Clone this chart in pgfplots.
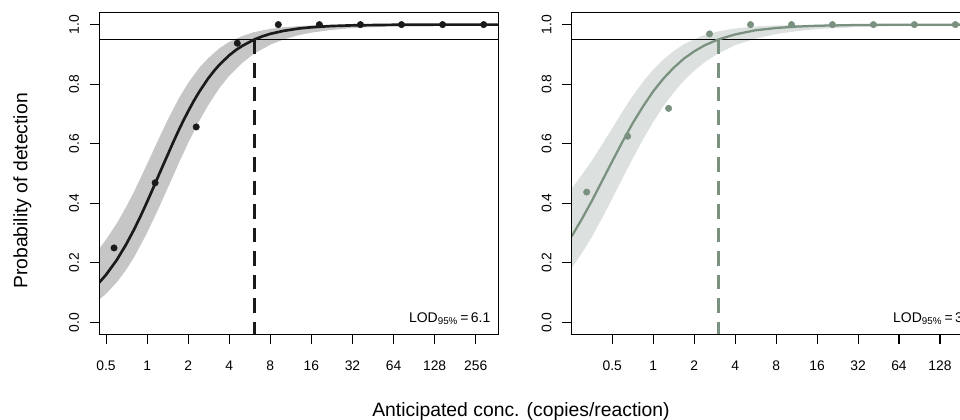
\documentclass[border=0pt]{standalone}
\usepackage{fontspec}
\setmainfont{Liberation Sans}
\usepackage{pgfplots}
\pgfplotsset{compat=1.18}
\definecolor{darkc}{HTML}{1A1A1A}
\definecolor{bandL}{HTML}{C6C6C6}
\definecolor{sage}{HTML}{7B917F}
\definecolor{bandR}{HTML}{DCE1E0}
\begin{document}
\begin{tikzpicture}
% ---------------- left panel ----------------
\begin{axis}[
  scale only axis, width=299.25pt, height=241.2pt,
  anchor=south west, at={(74.475pt,64.275pt)},
  xmode=log, log basis x=2,
  xmin=0.446, xmax=375, ymin=-0.04, ymax=1.04,
  xtick={0.5,1,2,4,8,16,32,64,128,256},
  xticklabels={0.5,1,2,4,8,16,32,64,128,256},
  ytick={0,0.2,0.4,0.6,0.8,1}, yticklabels={0.0,0.2,0.4,0.6,0.8,1.0},
  minor xtick={}, minor ytick={},
  tick align=outside, xtick pos=bottom, ytick pos=left,
  major tick length=7pt,
  every tick/.style={black, line width=0.8pt},
  axis line style={black, line width=1pt},
  tick label style={font=\fontsize{10.4}{12}\selectfont, inner sep=0pt},
  yticklabel style={rotate=90, anchor=south},
  xticklabel style={anchor=north},
  xticklabel shift=12.5pt, yticklabel shift=8pt,
  /pgf/number format/assume math mode=true,
  axis on top]
\addplot[fill=bandL, draw=none] coordinates {
 (0.446,0.248) (0.5,0.278) (0.6,0.333) (0.7,0.387) (0.8,0.438) (1,0.532)
 (1.2,0.611) (1.4,0.676) (1.7,0.751) (2,0.804) (2.4,0.854) (2.8,0.887)
 (3.4,0.921) (4,0.942) (5,0.962) (6.1,0.975) (8,0.9857) (10,0.9911)
 (13,0.995) (16,0.9969) (22,0.9985) (32,0.9994) (64,0.9999) (375,1.0)
 (375,0.9987) (128,0.9971) (64,0.9945) (32,0.9883) (22,0.9818) (16,0.973)
 (13,0.965) (10,0.950) (8,0.9325) (6.1,0.903) (5,0.872) (4,0.828)
 (3.4,0.788) (2.8,0.729) (2.4,0.675) (2,0.603) (1.7,0.533) (1.4,0.446)
 (1.2,0.378) (1,0.301) (0.8,0.218) (0.7,0.176) (0.6,0.135) (0.5,0.0959)
 (0.446,0.0768)};
\addplot[black, line width=0.75pt] coordinates {(0.446,0.95) (375,0.95)};
\addplot[darkc, line width=2pt] coordinates {
 (0.446,0.134) (0.5,0.160) (0.6,0.210) (0.7,0.261) (0.8,0.311) (0.9,0.359)
 (1,0.405) (1.1,0.448) (1.2,0.488) (1.3,0.525) (1.4,0.558) (1.55,0.604)
 (1.7,0.644) (1.85,0.679) (2,0.709) (2.2,0.744) (2.4,0.773) (2.8,0.819)
 (3.1,0.845) (3.4,0.866) (4,0.897) (4.5,0.9155) (5,0.929) (6.1,0.950)
 (7,0.9606) (8,0.969) (10,0.979) (13,0.987) (16,0.991) (22,0.995)
 (32,0.9975) (64,0.9993) (128,0.9998) (375,1.0)};
\addplot[darkc, line width=2.25pt, dash pattern=on 10.9pt off 6.75pt]
 coordinates {(6.1,0.95) (6.1,-0.04)};
\addplot[only marks, mark=*, mark size=2.4pt, darkc] coordinates {
 (0.572,0.25) (1.144,0.46875) (2.29,0.65625) (4.58,0.9375) (9.15,1)
 (18.3,1) (36.6,1) (73.2,1) (146.4,1) (292.9,1)};
\node[anchor=base east, inner sep=0pt, xshift=-5.7pt, yshift=9pt,
  font=\fontsize{10.5}{12}\selectfont] at (rel axis cs:1,0)
  {LOD\textsubscript{95\%}\,=\,6.1};
\end{axis}
% ---------------- right panel ----------------
\begin{axis}[
  scale only axis, width=299.25pt, height=241.2pt,
  anchor=south west, at={(428.775pt,64.275pt)},
  xmode=log, log basis x=2,
  xmin=0.2517, xmax=215.3, ymin=-0.04, ymax=1.04,
  xtick={0.5,1,2,4,8,16,32,64,128},
  xticklabels={0.5,1,2,4,8,16,32,64,128},
  ytick={0,0.2,0.4,0.6,0.8,1}, yticklabels={0.0,0.2,0.4,0.6,0.8,1.0},
  minor xtick={}, minor ytick={},
  tick align=outside, xtick pos=bottom, ytick pos=left,
  major tick length=7pt,
  every tick/.style={black, line width=0.8pt},
  axis line style={black, line width=1pt},
  tick label style={font=\fontsize{10.4}{12}\selectfont, inner sep=0pt},
  yticklabel style={rotate=90, anchor=south},
  xticklabel style={anchor=north},
  xticklabel shift=12.5pt, yticklabel shift=8pt,
  /pgf/number format/assume math mode=true,
  axis on top]
\addplot[fill=bandR, draw=none] coordinates {
 (0.2517,0.450) (0.297,0.494) (0.354,0.543) (0.420,0.597) (0.5,0.652)
 (0.595,0.708) (0.707,0.761) (0.841,0.808) (1,0.849) (1.189,0.883)
 (1.414,0.911) (1.682,0.934) (2,0.951) (2.378,0.965) (3.0,0.977)
 (4,0.987) (5.657,0.994) (8,0.997) (11.31,0.9988) (16,0.9995) (32,1.0)
 (215.3,1.0)
 (215.3,0.998) (128,0.9972) (64,0.9955) (32,0.992) (16,0.985) (11.31,0.978)
 (8,0.968) (5.657,0.953) (4,0.931) (3.0,0.903) (2.378,0.873) (2,0.845)
 (1.682,0.812) (1.414,0.772) (1.189,0.726) (1,0.673) (0.841,0.614)
 (0.707,0.550) (0.595,0.484) (0.5,0.416) (0.420,0.349) (0.354,0.287)
 (0.297,0.230) (0.2517,0.183)};
\addplot[black, line width=0.75pt] coordinates {(0.2517,0.95) (215.3,0.95)};
\addplot[sage, line width=1.7pt] coordinates {
 (0.2517,0.289) (0.297,0.345) (0.354,0.408) (0.420,0.474) (0.5,0.541)
 (0.595,0.607) (0.707,0.669) (0.841,0.725) (1,0.776) (1.189,0.819)
 (1.414,0.855) (1.682,0.886) (2,0.910) (2.378,0.930) (3.0,0.950)
 (4,0.967) (5.657,0.981) (8,0.9886) (11.31,0.9933) (16,0.9961)
 (32,0.9987) (64,0.9995) (128,0.9998) (215.3,1.0)};
\addplot[sage, line width=2.25pt, dash pattern=on 10.9pt off 6.75pt]
 coordinates {(3.0,0.95) (3.0,-0.04)};
\addplot[only marks, mark=*, mark size=2.4pt, sage] coordinates {
 (0.3243,0.4375) (0.649,0.625) (1.297,0.71875) (2.594,0.96875) (5.19,1)
 (10.38,1) (20.76,1) (41.5,1) (83.0,1) (166.0,1)};
\node[anchor=base east, inner sep=0pt, xshift=-5.7pt, yshift=9pt,
  font=\fontsize{10.5}{12}\selectfont] at (rel axis cs:1,0)
  {LOD\textsubscript{95\%}\,=\,3};
\end{axis}
% ---------------- shared labels ----------------
\node[rotate=90, anchor=base, inner sep=0pt, font=\fontsize{14.5}{17}\selectfont]
  at (20.5pt,171.75pt) {Probability of detection};
\node[anchor=base, inner sep=0pt, font=\fontsize{14.5}{17}\selectfont]
  at (390.75pt,2.25pt) {Anticipated conc. (copies/reaction)};
\pgfresetboundingbox
\useasboundingbox (0,0) rectangle (720pt,315pt);
\end{tikzpicture}
\end{document}
